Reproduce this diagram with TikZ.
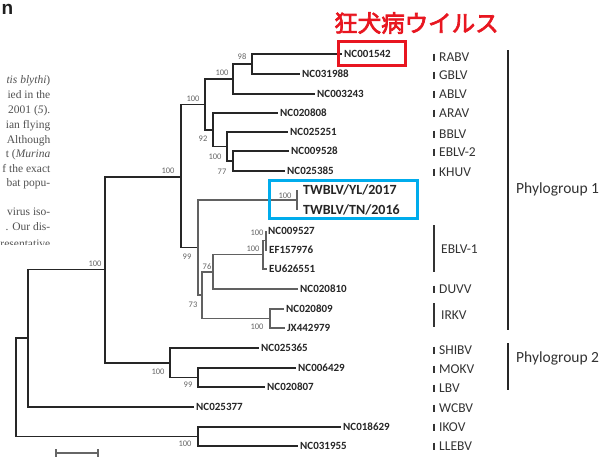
\documentclass[tikz,border=0pt]{standalone}
\usepackage{fontspec}
\setmainfont{Carlito}
\newfontfamily\cjkb{Noto Sans CJK JP}[FakeBold=3]
\newfontfamily\scanfont{Liberation Serif}
\newfontfamily\headfont{Liberation Sans}
\definecolor{rboxc}{RGB}{232,22,32}
\definecolor{bboxc}{RGB}{0,172,236}
\definecolor{ln}{RGB}{38,38,38}
\tikzset{
  br/.style={draw=ln, line width=1.9pt},
  brthin/.style={draw=black!62, line width=1.1pt},
  leaf/.style={anchor=west, inner xsep=2pt, inner ysep=0pt, text=black!85,
    font=\bfseries\fontsize{11}{11}\selectfont},
  twleaf/.style={anchor=west, inner xsep=6pt, inner ysep=0pt, text=black!85,
    font=\bfseries\fontsize{14}{14}\selectfont},
  bs/.style={inner sep=0pt, text=black!60, font=\fontsize{8.5}{8.5}\selectfont},
  vlab/.style={anchor=west, inner sep=0pt, text=black!80, font=\fontsize{13.5}{13.5}\selectfont},
  vbar/.style={draw=black!80, line width=2pt},
  grp/.style={anchor=west, inner sep=0pt, text=black!80, font=\fontsize{15.5}{15.5}\selectfont},
  gbar/.style={draw=black!85, line width=2.2pt},
  scan/.style={anchor=base east, inner sep=0pt, text=black!68, font=\scanfont\fontsize{11.5}{11.5}\selectfont},
}
\begin{document}
\begin{tikzpicture}[x=1pt,y=-1pt]
\useasboundingbox (0,0) rectangle (600,456);
\fill[white] (0,0) rectangle (600,456);

% ---- cut-off page text on the left ----
\node[anchor=base west, inner sep=0pt, text=black!88, font=\headfont\bfseries\fontsize{19}{19}\selectfont] (hd) at (1.5,14) {n};
\begin{scope}
\clip (0,0) rectangle (60,244);
\node[scan] (s1) at (50.5,83) {\itshape tis blythi\upshape )};
\node[scan] (s2) at (50.5,98) {ied in the};
\node[scan] (s3) at (50.5,113) {2001 (\itshape 5\upshape ).};
\node[scan] (s4) at (50.5,128) {ian flying};
\node[scan] (s5) at (50.5,143) {Although};
\node[scan] (s6) at (50.5,157) {t (\itshape Murina};
\node[scan] (s7) at (50.5,172) {f the exact};
\node[scan] (s8) at (50.5,186) {bat popu-};
\node[scan] (s9) at (50.5,215) {virus iso-};
\node[scan] (s10) at (50.5,230) {. Our dis-};
\node[scan] (s11) at (50.5,247) {resentative};
\end{scope}

% ---- leaves ----
\node[leaf] (l1) at (342,54) {NC001542};
\node[leaf] (l2) at (300,74) {NC031988};
\node[leaf] (l3) at (315,94) {NC003243};
\node[leaf] (l4) at (278,113) {NC020808};
\node[leaf] (l5) at (288,132) {NC025251};
\node[leaf] (l6) at (289,151) {NC009528};
\node[leaf] (l7) at (285,171) {NC025385};
\node[twleaf] (l8) at (297,190) {TWBLV/YL/2017};
\node[twleaf] (l9) at (297,210) {TWBLV/TN/2016};
\node[leaf] (l10) at (266,231) {NC009527};
\node[leaf] (l11) at (267,250) {EF157976};
\node[leaf] (l12) at (267,269) {EU626551};
\node[leaf] (l13) at (298,289) {NC020810};
\node[leaf] (l14) at (284,309) {NC020809};
\node[leaf] (l15) at (285,328) {JX442979};
\node[leaf] (l16) at (259,348) {NC025365};
\node[leaf] (l17) at (296,368) {NC006429};
\node[leaf] (l18) at (265,387) {NC020807};
\node[leaf] (l19) at (194,407) {NC025377};
\node[leaf] (l20) at (341,427) {NC018629};
\node[leaf] (l21) at (298,446) {NC031955};

% ---- internal nodes ----
\coordinate (A) at (252,64);
\coordinate (B) at (233,79);
\coordinate (C) at (205,104.5);
\coordinate (D) at (213,129.75);
\coordinate (E) at (227,146.5);
\coordinate (F) at (233,161);
\coordinate (G) at (181,176.75);
\coordinate (H) at (198,247.5);
\coordinate (TW) at (297,200);
\coordinate (I) at (202,295);
\coordinate (J) at (213,272);
\coordinate (Lc) at (263,254.75);
\coordinate (M) at (266,240.5);
\coordinate (K) at (270,318.5);
\coordinate (N) at (105,269.5);
\coordinate (O) at (170,362.75);
\coordinate (P) at (198,377.5);
\coordinate (Q) at (28,338);
\coordinate (Rt) at (16,387);
\coordinate (R) at (198,436.5);

% ---- branches ----
\draw[br] (A) |- (l1.west);  \draw[br] (A) |- (l2.west);
\draw[br] (B) |- (A);        \draw[br] (B) |- (l3.west);
\draw[br] (C) |- (B);        \draw[br] (C) |- (D);
\draw[br] (D) |- (l4.west);  \draw[br] (D) |- (E);
\draw[br] (E) |- (l5.west);  \draw[br] (E) |- (F);
\draw[br] (F) |- (l6.west);  \draw[br] (F) |- (l7.west);
\draw[br] (G) |- (C);        \draw[br] (G) |- (H);
\draw[brthin] (H) |- (TW);   \draw[brthin] (H) |- (I);
\draw[brthin] (TW) |- (l8.west); \draw[brthin] (TW) |- (l9.west);
\draw[brthin] (I) |- (J);    \draw[brthin] (I) |- (K);
\draw[brthin] (J) |- (Lc);   \draw[brthin] (J) |- (l13.west);
\draw[brthin] (Lc) |- (M);   \draw[brthin] (Lc) |- (l12.west);
\draw[brthin] (M) |- (l10.west); \draw[brthin] (M) |- (l11.west);
\draw[brthin] (K) |- (l14.west); \draw[brthin] (K) |- (l15.west);
\draw[br] (N) |- (G);        \draw[br] (N) |- (O);
\draw[br] (O) |- (l16.west); \draw[br] (O) |- (P);
\draw[br] (P) |- (l17.west); \draw[br] (P) |- (l18.west);
\draw[br] (Q) |- (N);        \draw[br] (Q) |- (l19.west);
\draw[br] (Rt) |- (Q);       \draw[br] (Rt) |- (R);
\draw[br] (R) |- (l20.west); \draw[br] (R) |- (l21.west);

% ---- bootstrap values ----
\node[bs] (bA) at (242,57) {98};
\node[bs] (bB) at (222,73) {100};
\node[bs] (bC) at (193,99) {100};
\node[bs] (bD) at (203,139) {92};
\node[bs] (bE) at (215,157) {100};
\node[bs] (bF) at (222,172) {77};
\node[bs] (bG) at (168,171) {100};
\node[bs] (bH) at (187,257) {99};
\node[bs] (bTW) at (285,196) {100};
\node[bs] (bM) at (257,233) {100};
\node[bs] (bL) at (253,249) {100};
\node[bs] (bJ) at (207,267) {76};
\node[bs] (bI) at (193,305) {73};
\node[bs] (bK) at (257,327) {100};
\node[bs] (bN) at (95,264) {100};
\node[bs] (bO) at (158,372) {100};
\node[bs] (bP) at (188,385) {99};
\node[bs] (bR) at (185,444) {100};

% ---- highlight boxes ----
\draw[draw=rboxc, line width=3pt] (338,41) rectangle (405,65);
\node[anchor=west, inner sep=0pt, text=rboxc, font=\cjkb\fontsize{23.5}{23.5}\selectfont] (rab) at (334,23) {狂犬病ウイルス};
\draw[draw=bboxc, line width=3pt] (269,180) rectangle (417,218);

% ---- virus species labels ----
\foreach \nm/\yy/\tx in {rabv/57/RABV, gblv/75/GBLV, ablv/94/ABLV, arav/113/ARAV,
  bblv/134/BBLV, eblvb/152/EBLV-2, khuv/172/KHUV, duvv/289/DUVV,
  shibv/350/SHIBV, mokv/369/MOKV, lbv/388/LBV, wcbv/408/WCBV, ikov/427/IKOV, llebv/446/LLEBV}{
  \node[vlab] (\nm) at (439,\yy) {\tx};
  \draw[vbar] ([xshift=-5pt,yshift=3.5pt]\nm.west) -- ([xshift=-5pt,yshift=-3.5pt]\nm.west);
}
\node[vlab] (eblva) at (441,249) {EBLV-1};
\draw[vbar] (434,225) -- (434,272);
\node[vlab] (irkv) at (441,315) {IRKV};
\draw[vbar] (434,303) -- (434,327);

% ---- phylogroups ----
\draw[gbar] (508,50) -- (508,330);
\node[grp] (pg1) at (516,189) {Phylogroup 1};
\draw[gbar] (508,343) -- (508,390);
\node[grp] (pg2) at (516,358) {Phylogroup 2};

% ---- scale bar (cut at bottom) ----
\draw[draw=black!60, line width=1.2pt] (56,453) -- (98,453);
\draw[draw=black!60, line width=1.2pt] (56,449) -- (56,457);
\draw[draw=black!60, line width=1.2pt] (98,449) -- (98,457);
\end{tikzpicture}
\end{document}
